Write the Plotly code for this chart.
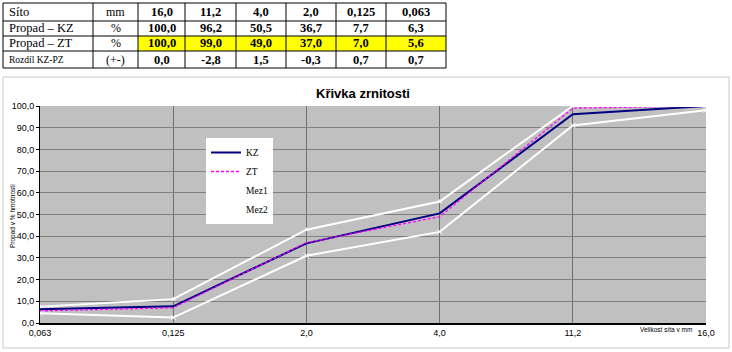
import plotly.graph_objects as go

# ---- data ----
sieves_desc = ["16,0", "11,2", "4,0", "2,0", "0,125", "0,063"]
kz_desc = [100.0, 96.2, 50.5, 36.7, 7.7, 6.3]
zt_desc = [100.0, 99.0, 49.0, 37.0, 7.0, 5.6]

sieves = ["0,063", "0,125", "2,0", "4,0", "11,2", "16,0"]
kz = [6.3, 7.7, 36.7, 50.5, 96.2, 100.0]
zt = [5.6, 7.0, 37.0, 49.0, 99.0, 100.0]
mez1 = [7.5, 11.0, 43.0, 56.0, 100.0, 100.0]
mez2 = [4.5, 2.5, 31.0, 42.0, 91.0, 98.0]

row_labels = ["Síto", "Propad – KZ", "Propad – ZT", "Rozdíl KZ-PZ"]
units = ["mm", "%", "%", "(+-)"]

W, H = 732, 352

# table layout (pixels)
col_edges = [3, 93, 138, 185, 236, 286, 336, 386, 446]
row_edges = [3, 21, 36, 51, 68]


def fmt(v):
    return f"{v:.1f}".replace(".", ",")


def px(x):
    return x / W


def py(y):
    return 1 - y / H


diff = [round(a - b, 1) for a, b in zip(kz_desc, zt_desc)]
diff = [0.0 if d == 0 else d for d in diff]

rows_vals = [sieves_desc,
             [fmt(v) for v in kz_desc],
             [fmt(v) for v in zt_desc],
             [fmt(v) for v in diff]]

shapes = []
annotations = []

# yellow highlight of the ZT row
shapes.append(dict(type="rect", xref="paper", yref="paper",
                   x0=px(col_edges[2]), x1=px(col_edges[-1]),
                   y0=py(row_edges[3]), y1=py(row_edges[2]),
                   fillcolor="#FFFF00", line=dict(width=0), layer="below"))
for ry in row_edges:
    shapes.append(dict(type="line", xref="paper", yref="paper",
                       x0=px(col_edges[0]), x1=px(col_edges[-1]),
                       y0=py(ry), y1=py(ry), line=dict(color="black", width=1)))
for cx in col_edges:
    shapes.append(dict(type="line", xref="paper", yref="paper",
                       x0=px(cx), x1=px(cx),
                       y0=py(row_edges[0]), y1=py(row_edges[-1]),
                       line=dict(color="black", width=1)))

for r in range(4):
    yc = py((row_edges[r] + row_edges[r + 1]) / 2)
    annotations.append(dict(text=row_labels[r], xref="paper", yref="paper",
                            x=px(col_edges[0] + 4), y=yc, xanchor="left", yanchor="middle",
                            showarrow=False,
                            font=dict(family="Liberation Serif",
                                      size=9.5 if r == 3 else 12.5, color="black")))
    annotations.append(dict(text=units[r], xref="paper", yref="paper",
                            x=px((col_edges[1] + col_edges[2]) / 2), y=yc,
                            xanchor="center", yanchor="middle", showarrow=False,
                            font=dict(family="Liberation Serif", size=12, color="black")))
    for c in range(6):
        annotations.append(dict(text=f"<b>{rows_vals[r][c]}</b>", xref="paper", yref="paper",
                                x=px((col_edges[c + 2] + col_edges[c + 3]) / 2), y=yc,
                                xanchor="center", yanchor="middle", showarrow=False,
                                font=dict(family="Liberation Serif", size=12.5, color="black")))

# chart area border
shapes.append(dict(type="rect", xref="paper", yref="paper",
                   x0=px(3), x1=px(729), y0=py(348), y1=py(77),
                   line=dict(color="#C8C8C8", width=1), layer="below"))

annotations.append(dict(text="Velikost síta v mm", xref="paper", yref="paper",
                        x=px(694), y=py(329), xanchor="right", yanchor="middle",
                        showarrow=False, font=dict(size=6.5, color="black")))
annotations.append(dict(text="Propad v % hmotnosti", xref="paper", yref="paper",
                        x=px(13), y=py(216), xanchor="center", yanchor="middle",
                        showarrow=False, textangle=-90,
                        font=dict(size=6.5, color="black")))

fig = go.Figure()
fig.add_trace(go.Scatter(x=sieves, y=kz, name="KZ", mode="lines",
                         line=dict(color="#000080", width=2)))
fig.add_trace(go.Scatter(x=sieves, y=zt, name="ZT", mode="lines",
                         line=dict(color="#FF00FF", width=1.3, dash="3px,2px")))
fig.add_trace(go.Scatter(x=sieves, y=mez1, name="Mez1", mode="lines+markers",
                         line=dict(color="white", width=2),
                         marker=dict(size=5, color="white", symbol="triangle-up")))
fig.add_trace(go.Scatter(x=sieves, y=mez2, name="Mez2", mode="lines+markers",
                         line=dict(color="white", width=2),
                         marker=dict(size=5, color="white", symbol="x-thin",
                                     line=dict(color="white", width=1))))

fig.update_layout(
    width=W, height=H,
    margin=dict(l=0, r=0, t=0, b=0),
    paper_bgcolor="white",
    plot_bgcolor="#C0C0C0",
    separators=", ",
    font=dict(family="Liberation Sans", size=9, color="black"),
    title=dict(text="<b>Křivka zrnitosti</b>", x=px(363), xanchor="center",
               y=py(93), yanchor="middle", yref="paper",
               font=dict(family="Liberation Sans", size=13, color="black")),
    xaxis=dict(domain=[px(40), px(706)], type="category", range=[0, 5],
               showgrid=True, gridcolor="#6E6E6E", gridwidth=1,
               showline=True, linecolor="black", linewidth=2,
               ticks="", tickfont=dict(size=9), zeroline=False,
               automargin=False, fixedrange=True),
    yaxis=dict(domain=[py(323), py(106)], range=[0, 100], dtick=10, tickformat=".1f",
               showgrid=True, gridcolor="#808080", gridwidth=1,
               showline=True, linecolor="black", linewidth=1,
               ticks="outside", ticklen=3, tickcolor="black",
               tickfont=dict(size=9), zeroline=False, automargin=False),
    legend=dict(x=px(206), y=py(138), xanchor="left", yanchor="top",
                bgcolor="white", borderwidth=0,
                font=dict(family="Liberation Serif", size=9.5, color="black"),
                tracegroupgap=0, itemwidth=30),
    showlegend=True,
    shapes=shapes,
    annotations=annotations,
)

fig.write_html("out.html")
